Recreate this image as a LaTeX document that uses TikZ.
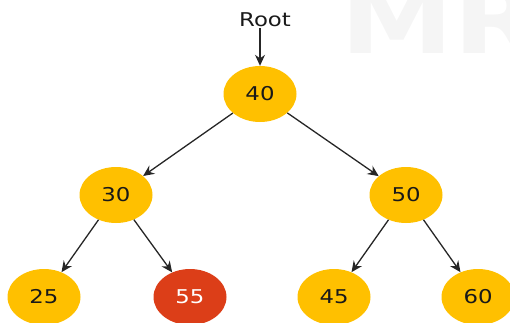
\documentclass[tikz,border=0pt]{standalone}
\usepackage{fontspec}
\setmainfont{DejaVu Sans}
\usetikzlibrary{shapes.geometric,arrows.meta}
\definecolor{nodeyellow}{HTML}{FFC000}
\definecolor{nodered}{HTML}{DC3E18}
\newcommand{\wide}[1]{\scalebox{1.2}[1]{#1}}
\tikzset{
  treenode/.style={ellipse, fill=nodeyellow, minimum width=73pt, minimum height=56pt, inner sep=0pt, font=\fontsize{19}{21}\selectfont, text=black!90},
  rednode/.style={treenode, fill=nodered, text=white},
  edge/.style={-{Stealth[length=11pt,width=10pt]}, line width=1.3pt, black!85},
}
\begin{document}
\begin{tikzpicture}[x=1pt,y=-1pt]
\useasboundingbox (0,0) rectangle (510,322);
\begin{scope}
\clip (0,0) rectangle (510,322);
\node[anchor=south west, inner sep=0pt, text=black!4, font=\fontsize{95}{95}\selectfont\bfseries] (wm) at (340,54) {\wide{MR}};
\end{scope}
\node[font=\fontsize{19}{22}\selectfont, text=black!90, inner sep=1pt] (rootlabel) at (265,20) {\scalebox{1.2}[1]{Root}};
\node[treenode] (n40) at (260,94) {\wide{40}};
\node[treenode] (n30) at (116,195) {\wide{30}};
\node[treenode] (n50) at (406,195) {\wide{50}};
\node[treenode] (n25) at (44,297) {\wide{25}};
\node[rednode] (n55) at (190,297) {\wide{55}};
\node[treenode] (n45) at (334,297) {\wide{45}};
\node[treenode] (n60) at (478,297) {\wide{60}};
\draw[edge] (rootlabel.south -| n40.north) -- (n40.north);
\draw[edge] (n40) -- (n30);
\draw[edge] (n40) -- (n50);
\draw[edge] (n30) -- (n25);
\draw[edge] (n30) -- (n55);
\draw[edge] (n50) -- (n45);
\draw[edge] (n50) -- (n60);
\end{tikzpicture}
\end{document}
